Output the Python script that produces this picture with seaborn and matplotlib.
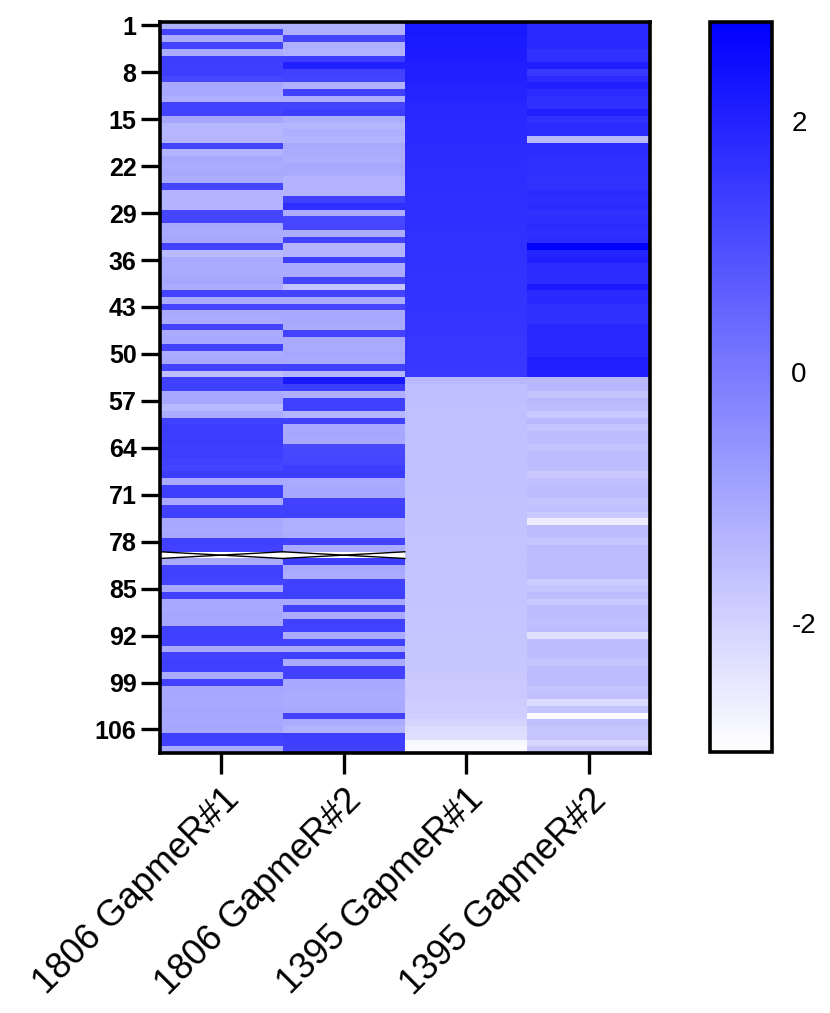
import numpy as np
import pandas as pd
import matplotlib
matplotlib.use("Agg")
import matplotlib.pyplot as plt
from matplotlib.colors import LinearSegmentedColormap
import seaborn as sns

samples = ["1806 GapmeR#1", "1806 GapmeR#2", "1395 GapmeR#1", "1395 GapmeR#2"]
row_labels = [1, 8, 15, 22, 29, 36, 43, 50, 57, 64, 71, 78, 85, 92, 99, 106]
cbar_ticks = [-2, 0, 2]
vmin, vmax = -3.03, 2.79

# one value per row (109 rows)
g1806_1 = [
    -1.20, 1.24, -1.08, 1.26, -1.12, 1.40, 1.38, 1.36, 1.18, -1.05,
    -1.06, -1.20, 1.25, 1.30, -1.00, -1.36, -1.38, -1.34, 1.24, -1.30,
    -1.05, -1.08, -1.04, -1.10, 1.22, -1.30, -1.32, -1.28, 1.20, 1.22,
    -1.04, -1.08, -1.02, 1.26, -1.45, -1.06, -1.10, -1.08, -1.00, -1.12,
    1.25, -1.08, 1.22, -1.06, -1.10, 1.24, -1.12, -1.05, 1.26, -1.08,
    -1.04, 1.28, -1.55, 1.30, 1.32, -1.05, -1.02, -1.42, -1.10, 1.33,
    1.42, 1.40, 1.41, 1.38, 1.40, 1.30, 1.24, 1.40, -1.08, 1.34,
    1.36, -1.06, 1.30, 1.32, -1.04, -1.06, -1.02, 1.34, 1.30, np.nan,
    -1.08, 1.30, 1.32, 1.22, -1.05, 1.30, -1.04, -1.06, -1.00, -1.02,
    1.32, 1.34, 1.30, -1.06, 1.30, 1.34, 1.32, -1.08, 1.30, -1.02,
    -1.04, -1.06, -1.00, -1.02, -1.04, -1.00, 1.34, 1.30, -1.06,
]
g1806_2 = [
    -1.20, -1.22, 1.24, -1.20, -1.24, 1.42, 2.08, 1.30, 1.24, -1.22,
    1.30, -1.18, 1.26, 1.40, -1.18, -1.36, -1.20, -1.30, -1.06, -1.10,
    -1.18, -1.04, -1.08, -1.28, -1.30, -1.26, 1.33, 1.70, -1.12, 1.16,
    1.18, -1.16, 1.30, -1.30, -1.32, 1.36, -1.10, -1.08, 1.24, -1.66,
    1.28, -1.10, 1.20, -1.06, -1.04, -1.08, 1.26, -1.04, -1.08, -1.02,
    -1.06, 1.33, -1.36, 2.20, 1.40, -1.20, 1.33, 1.35, -1.34, 1.30,
    -1.04, -1.02, -1.06, 1.15, 1.16, 1.18, 1.40, 1.42, -1.08, -1.04,
    -1.02, 1.30, 1.32, 1.34, -1.20, -1.22, -1.18, 1.30, -1.08, np.nan,
    1.40, -1.04, -1.10, 1.30, 1.32, 1.34, -1.06, 1.26, -1.10, 1.32,
    1.30, -1.12, 1.32, -1.08, 1.34, -1.10, 1.30, 1.28, -1.04, -1.06,
    -1.12, -1.08, -1.04, 1.28, -1.10, -1.26, 1.36, 1.34, 1.32,
]
g1395_1 = [
    2.20, 2.20, 2.17, 2.17, 2.15, 2.11, 2.08, 2.06, 2.06, 1.99,
    1.97, 1.97, 1.90, 1.88, 1.85, 1.83, 1.83, 1.81, 1.79, 1.78,
    1.77, 1.76, 1.75, 1.75, 1.74, 1.73, 1.72, 1.72, 1.71, 1.70,
    1.70, 1.69, 1.68, 1.67, 1.67, 1.66, 1.64, 1.63, 1.63, 1.62,
    1.61, 1.60, 1.60, 1.59, 1.58, 1.57, 1.57, 1.56, 1.55, 1.54,
    1.53, 1.52, 1.51, -1.41, -1.56, -1.57, -1.57, -1.58, -1.58, -1.59,
    -1.59, -1.59, -1.60, -1.60, -1.60, -1.61, -1.61, -1.61, -1.62, -1.62,
    -1.62, -1.63, -1.63, -1.64, -1.64, -1.64, -1.65, -1.65, -1.65, -1.66,
    -1.66, -1.66, -1.67, -1.67, -1.67, -1.68, -1.68, -1.69, -1.69, -1.70,
    -1.71, -1.72, -1.72, -1.73, -1.74, -1.74, -1.75, -1.76, -1.78, -1.79,
    -1.80, -1.86, -1.88, -1.90, -2.05, -2.22, -2.26, -2.86, -2.92,
]
g1395_2 = [
    1.83, 1.83, 1.83, 1.88, 1.69, 1.70, 2.10, 1.51, 1.79, 2.06,
    1.79, 1.69, 1.70, 2.06, 1.69, 1.79, 1.78, -1.41, 1.79, 1.78,
    1.69, 1.70, 1.68, 1.65, 1.69, 1.79, 1.74, 1.79, 1.69, 1.74,
    1.79, 1.74, 1.78, 2.79, 1.97, 2.10, 1.79, 1.78, 1.79, 2.20,
    1.79, 1.88, 1.69, 1.70, 1.69, 1.88, 1.87, 1.88, 1.86, 1.88,
    2.06, 2.05, 2.06, -1.41, -1.41, -1.68, -1.41, -1.50, -1.78, -1.41,
    -1.68, -1.50, -1.51, -1.68, -1.50, -1.50, -1.51, -1.78, -1.59, -1.50,
    -1.50, -1.68, -1.59, -1.78, -2.60, -1.50, -1.50, -1.73, -1.50, -1.50,
    -1.51, -1.50, -1.50, -1.87, -1.68, -1.50, -1.78, -1.50, -1.50, -1.59,
    -1.50, -2.32, -1.50, -1.50, -1.51, -1.68, -1.50, -1.50, -1.50, -1.68,
    -1.59, -2.23, -1.68, -2.92, -1.59, -1.73, -1.68, -2.09, -1.73,
]

df = pd.DataFrame({samples[0]: g1806_1, samples[1]: g1806_2,
                   samples[2]: g1395_1, samples[3]: g1395_2})

sns.set_style("white")
plt.rcParams['font.family'] = ['Liberation Sans', 'DejaVu Sans']

cmap = LinearSegmentedColormap.from_list("wb", ["#ffffff", "#0000ff"])

fig = plt.figure(figsize=(8.3, 10.13), dpi=100)
ax = fig.add_axes([0.193, 0.2567, 0.590, 0.7216])
cax = fig.add_axes([0.856, 0.2577, 0.074, 0.7206])

sns.heatmap(df, ax=ax, cbar_ax=cax, cmap=cmap, vmin=vmin, vmax=vmax,
            yticklabels=False, linewidths=0)

# missing cells are drawn crossed out
for c, col in enumerate(df.columns):
    for r in np.where(df[col].isna())[0]:
        ax.plot([c, c + 1], [r, r + 1], color="k", lw=1.0)
        ax.plot([c, c + 1], [r + 1, r], color="k", lw=1.0)

for sp in ax.spines.values():
    sp.set_visible(True)
    sp.set_linewidth(2.6)
    sp.set_color("black")

ax.set_yticks(np.array(row_labels) - 0.5)
ax.set_yticklabels([str(v) for v in row_labels], rotation=0,
                   fontsize=18, fontweight="bold", color="black")
ax.set_xticks(np.arange(len(samples)) + 0.5)
ax.set_xticklabels(samples, rotation=45, ha="right", va="top",
                   rotation_mode="anchor", fontsize=26, color="black")
ax.tick_params(axis="y", length=14, width=2.4, color="black", left=True, pad=3)
ax.tick_params(axis="x", length=15, width=2.4, color="black", bottom=True, pad=6)
ax.set_xlabel("")
ax.set_ylabel("")

cbar = ax.collections[0].colorbar
cbar.set_ticks(cbar_ticks)
cbar.set_ticklabels([str(t) for t in cbar_ticks])
cbar.outline.set_linewidth(2.6)
cbar.outline.set_edgecolor("black")
cax.tick_params(direction="in", left=True, right=True, length=7, width=2.4,
                labelsize=20, labelcolor="black", pad=14)

fig.savefig("out.png", dpi=100)
